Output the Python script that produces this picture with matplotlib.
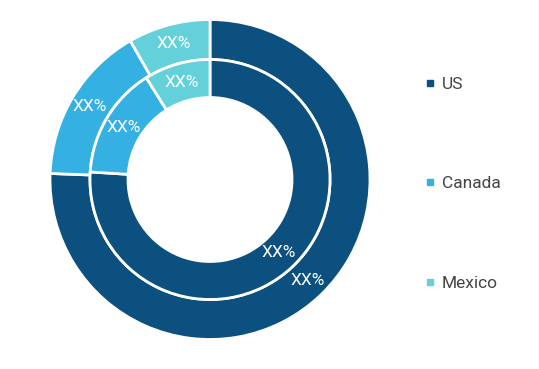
import matplotlib.pyplot as plt
from matplotlib.lines import Line2D

# shares (labels are masked as "XX%")
countries = ["US", "Canada", "Mexico"]
outer_share = [75.6, 16.1, 8.3]
inner_share = [76.0, 15.1, 8.9]
colors = ["#0b507e", "#35b0e2", "#64d0da"]
value_label = "XX%"

plt.rcParams["font.family"] = ["Roboto", "DejaVu Sans"]

fig = plt.figure(figsize=(5.39, 3.69), dpi=100)
ax = fig.add_axes([0, 0, 1, 1])

wp = dict(edgecolor="white", linewidth=2)
txt = dict(color="white", fontsize=12.5, ha="center", va="center")
ax.pie(outer_share, radius=160, colors=colors, startangle=90, counterclock=False,
       wedgeprops=dict(width=40, **wp), labels=[value_label] * 3, labeldistance=0.88,
       textprops=txt)
ax.pie(inner_share, radius=120, colors=colors, startangle=90, counterclock=False,
       wedgeprops=dict(width=38, **wp), labels=[value_label] * 3, labeldistance=0.84,
       textprops=txt)

# pie() resets the limits, so set them afterwards
ax.set_xlim(-210, 329)
ax.set_ylim(-189.5, 179.5)
ax.set_aspect("equal")
ax.axis("off")

handles = [Line2D([], [], marker="s", linestyle="none", markersize=5,
                  markerfacecolor=c, markeredgecolor=c) for c in colors]
ax.legend(handles, countries, loc="upper left", bbox_to_anchor=(0.755, 0.835),
          frameon=False, prop=dict(size=12.5), labelspacing=4.87,
          handletextpad=0.3, handlelength=0.8, labelcolor="#444444")

fig.savefig("out.png", dpi=100)
